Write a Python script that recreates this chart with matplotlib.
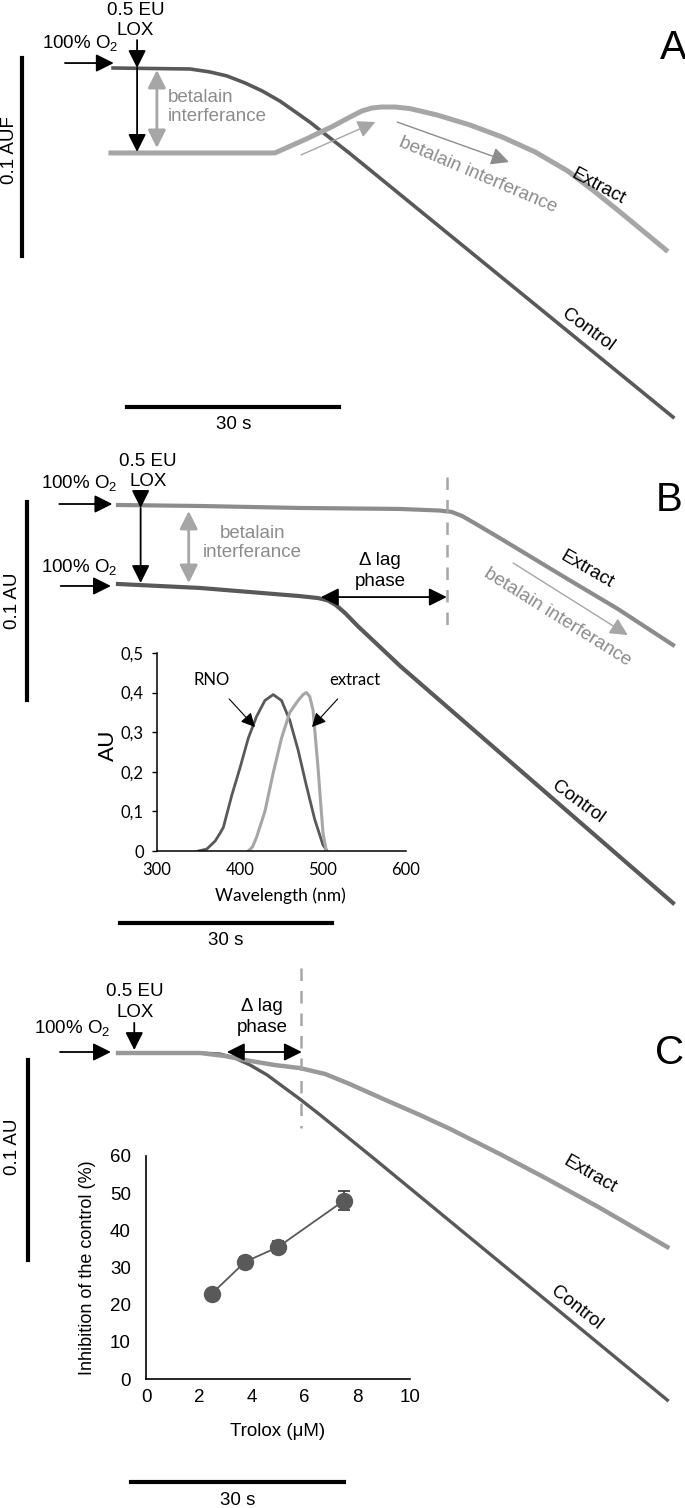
import matplotlib.pyplot as plt
import numpy as np

plt.rcParams['font.family'] = ['Liberation Sans', 'DejaVu Sans']
plt.rcParams['mathtext.fontset'] = 'custom'
plt.rcParams['mathtext.rm'] = 'Liberation Sans'
plt.rcParams['mathtext.default'] = 'regular'

# kinetic traces: time (s) vs. signal change relative to the start level (AU)
# A - fluorescence
a_ctrl_t = [-0.7, 10.2, 13.0, 15.4, 18.0, 20.4, 22.9, 25.3, 27.2, 29.0, 30.8, 32.7, 78.5]
a_ctrl_y = [0, -0.0005, -0.0020, -0.0040, -0.0076, -0.0116, -0.0167, -0.0227, -0.0275,
            -0.0326, -0.0376, -0.0429, -0.1763]
a_ext_t = [-1.0, 22.2, 26.6, 30.3, 32.8, 34.5, 35.9, 37.3, 39.2, 41.3, 45.1, 49.8, 54.3,
           59.0, 63.6, 67.3, 71.0, 77.5]
a_ext_y = [-0.0429, -0.0429, -0.0359, -0.0296, -0.0248, -0.0217, -0.0202, -0.0197, -0.0197,
           -0.0205, -0.0237, -0.0288, -0.0348, -0.0424, -0.0520, -0.0621, -0.0727, -0.0919]

# B - absorbance
b_ctrl_t = [0, 11.6, 25.7, 28.3, 29.7, 30.8, 32.1, 33.9, 39.9, 78.5]
b_ctrl_y = [0, -0.0020, -0.0061, -0.0071, -0.0083, -0.0106, -0.0146, -0.0212, -0.0414, -0.1611]
b_ext_t = [0, 11.6, 25.7, 39.9, 45.5, 47.2, 48.7, 50.5, 54.0, 63.6, 70.7, 78.5]
b_ext_y = [0.0399, 0.0394, 0.0384, 0.0379, 0.0371, 0.0364, 0.0343, 0.0306, 0.0232, 0.0025,
           -0.0126, -0.0308]

# C - absorbance
c_ctrl_t = [0, 11.6, 14.4, 16.5, 18.7, 21.1, 23.6, 25.7, 28.6, 31.4, 36.1, 77.7]
c_ctrl_y = [0, 0, -0.0005, -0.0025, -0.0061, -0.0111, -0.0177, -0.0232, -0.0313, -0.0394,
            -0.0530, -0.1753]
c_ext_t = [0, 11.6, 15.1, 18.7, 22.2, 25.7, 29.3, 32.8, 37.5, 42.7, 47.0, 54.0, 60.7, 68.2, 77.7]
c_ext_y = [0, 0, -0.0015, -0.0040, -0.0061, -0.0076, -0.0106, -0.0157, -0.0232, -0.0313,
           -0.0384, -0.0510, -0.0636, -0.0783, -0.0980]

# inset B: absorption spectra
rno_wl = [350, 360, 370, 376, 380, 390, 400, 410, 420, 430, 440, 450, 460, 470, 480, 490, 500, 505]
rno_au = [0, 0.005, 0.025, 0.045, 0.06, 0.14, 0.21, 0.285, 0.34, 0.38, 0.395, 0.38, 0.33,
          0.255, 0.165, 0.08, 0.015, 0]
ext_wl = [410, 415, 420, 430, 440, 450, 460, 470, 476, 480, 484, 488, 494, 500, 504]
ext_au = [0, 0.01, 0.035, 0.1, 0.197, 0.285, 0.35, 0.38, 0.395, 0.40, 0.39, 0.356, 0.21,
          0.045, 0]

# inset C: Trolox calibration
trolox = [2.5, 3.75, 5.0, 7.5]
inhib = [23, 31.5, 35.5, 48]
inhib_err = [0.8, 1.2, 1.5, 2.5]

DARK = '#595959'
LIGHT = '#a6a6a6'
MID = '#8c8c8c'
FS = 13.5

W, H = 685, 1508
fig = plt.figure(figsize=(W / 100, H / 100), dpi=100)

PX_S = 7.07   # px per second
PX_AU = 1980  # px per AU


def panel(top, bottom, y0):
    ax = fig.add_axes([0, 1 - bottom / H, 1, (bottom - top) / H])
    ax.set_xlim(-118 / PX_S, (W - 118) / PX_S)
    ax.set_ylim((y0 - bottom) / PX_AU, (y0 - top) / PX_AU)
    ax.axis('off')
    return ax


def arrow(ax, start, end, color='k', lw=1.3, style='-|>', hl=0.6, hw=0.3, ms=18):
    ax.annotate('', xy=end, xytext=start,
                arrowprops=dict(arrowstyle=f'{style},head_length={hl},head_width={hw}',
                                color=color, lw=lw, shrinkA=0, shrinkB=0, mutation_scale=ms))


def txt(ax, x, y, s, **kw):
    kw.setdefault('fontsize', FS)
    ax.text(x, y, s, ha=kw.pop('ha', 'center'), va=kw.pop('va', 'center'), **kw)


# ---------------- A
axA = panel(0, 440, 68)
axA.plot(a_ctrl_t, a_ctrl_y, color=DARK, lw=2.6, solid_joinstyle='round')
axA.plot(a_ext_t, a_ext_y, color=LIGHT, lw=3.6, solid_joinstyle='round')
axA.plot([1.3, 31.3], [-0.1712, -0.1712], color='k', lw=3)
txt(axA, 16.3, -0.1803, '30 s')
axA.plot([-13.6, -13.6], [0.005, -0.095], color='k', lw=3)
txt(axA, -15.4, -0.0414, '0.1 AUF', rotation=90)
txt(axA, 2.5, 0.024, '0.5 EU\nLOX', linespacing=1.25)
txt(axA, -5.4, 0.0126, '100% O$_2$')
arrow(axA, (-7.5, 0.0025), (-0.6, 0.0025))
arrow(axA, (2.7, 0.0141), (2.7, 0.0))
arrow(axA, (2.7, 0.0), (2.7, -0.0424))
arrow(axA, (5.5, -0.001), (5.5, -0.0404), color=LIGHT, lw=2, style='<|-|>')
txt(axA, 7.1, -0.0197, 'betalain\ninterferance', color=MID, ha='left')
arrow(axA, (25.9, -0.0439), (36.4, -0.0273), color=LIGHT, lw=1)
arrow(axA, (39.5, -0.0273), (55.3, -0.0475), color=MID, lw=1)
txt(axA, 50.9, -0.054, 'betalain interferance', color=MID, rotation=-23)
txt(axA, 67.9, -0.0601, 'Extract', rotation=-28)
txt(axA, 66.5, -0.1323, 'Control', rotation=-36)
txt(axA, 78.6, 0.0101, 'A', fontsize=29)

# ---------------- B
axB = panel(440, 960, 584)
axB.plot(b_ext_t, b_ext_y, color=MID, lw=3, solid_joinstyle='round')
axB.plot(b_ctrl_t, b_ctrl_y, color=DARK, lw=3, solid_joinstyle='round')
axB.plot([46.5, 46.5], [0.054, -0.0242], color=LIGHT, lw=1.8, ls=(0, (5, 4)))
axB.plot([0.3, 30.3], [-0.1712, -0.1712], color='k', lw=3)
txt(axB, 15.3, -0.180, '30 s')
axB.plot([-12.9, -12.9], [0.0414, -0.0586], color='k', lw=3)
txt(axB, -14.9, -0.0086, '0.1 AU', rotation=90)
txt(axB, 4.2, 0.0568, '0.5 EU\nLOX', linespacing=1.25)
txt(axB, -5.5, 0.0510, '100% O$_2$')
arrow(axB, (-8.3, 0.0404), (-0.8, 0.0404))
arrow(axB, (3.2, 0.046), (3.2, 0.0384))
arrow(axB, (3.2, 0.0384), (3.2, 0.0005))
arrow(axB, (10.0, 0.0369), (10.0, 0.0005), color=LIGHT, lw=2, style='<|-|>')
txt(axB, 19.0, 0.0207, 'betalain\ninterferance', color=MID)
txt(axB, -5.5, 0.0086, '100% O$_2$')
arrow(axB, (-8.1, -0.001), (-1.0, -0.001))
txt(axB, 37.1, 0.0066, 'Δ lag\nphase', linespacing=1.25)
arrow(axB, (28.7, -0.0066), (46.5, -0.0066), style='<|-|>')
txt(axB, 78.0, 0.0424, 'B', fontsize=29)
txt(axB, 66.3, 0.0071, 'Extract', rotation=-30)
arrow(axB, (55.9, 0.0106), (72.1, -0.0258), color=LIGHT, lw=1)
txt(axB, 62.2, -0.0167, 'betalain interferance', color=MID, rotation=-32)
txt(axB, 65.1, -0.1101, 'Control', rotation=-36)

# ---------------- C
axC = panel(960, 1508, 1053)
axC.plot(c_ctrl_t, c_ctrl_y, color=DARK, lw=2.4, solid_joinstyle='round')
axC.plot(c_ext_t, c_ext_y, color='#999999', lw=3.2, solid_joinstyle='round')
axC.plot([25.9, 25.9], [0.0429, -0.0379], color=LIGHT, lw=1.8, ls=(0, (5, 4)))
axC.plot([1.9, 31.9], [-0.2167, -0.2167], color='k', lw=3)
txt(axC, 16.9, -0.2258, '30 s')
axC.plot([-12.7, -12.7], [-0.0035, -0.1045], color='k', lw=3)
txt(axC, -14.9, -0.0475, '0.1 AU', rotation=90)
txt(axC, 2.4, 0.0258, '0.5 EU\nLOX', linespacing=1.25)
txt(axC, -6.5, 0.0126, '100% O$_2$')
arrow(axC, (-8.2, 0.0005), (-1.0, 0.0005))
arrow(axC, (2.3, 0.0152), (2.3, 0.0015))
txt(axC, 20.4, 0.0182, 'Δ lag\nphase', linespacing=1.25)
arrow(axC, (15.4, 0.0005), (26.0, 0.0005), style='<|-|>')
txt(axC, 78.0, 0.0, 'C', fontsize=29)
txt(axC, 66.8, -0.0616, 'Extract', rotation=-30)
txt(axC, 64.9, -0.1288, 'Control', rotation=-38)

# ---------------- inset B: spectra
axS = fig.add_axes([157 / W, 1 - 851 / H, (406 - 157) / W, (851 - 653) / H])
axS.patch.set_alpha(0)
axS.plot(rno_wl, rno_au, color=DARK, lw=2)
axS.plot(ext_wl, ext_au, color=LIGHT, lw=2.2)
axS.set_xlim(300, 600)
axS.set_ylim(0, 0.5)
for s in ['top', 'right']:
    axS.spines[s].set_visible(False)
for s in ['left', 'bottom']:
    axS.spines[s].set_linewidth(1.1)
axS.set_xticks([300, 400, 500, 600])
axS.set_yticks([0, 0.1, 0.2, 0.3, 0.4, 0.5])
axS.set_yticklabels(['0', '0,1', '0,2', '0,3', '0,4', '0,5'], family='Lato')
axS.set_xticklabels(['300', '400', '500', '600'], family='Lato')
axS.tick_params(axis='y', length=3.5, width=1, labelsize=12, pad=6)
axS.tick_params(axis='x', length=0, labelsize=12, pad=8)
axS.set_ylabel('AU', family='Lato', fontsize=16)
axS.yaxis.set_label_coords(-0.157, 0.535)
axS.set_xlabel('Wavelength (nm)', family='Lato', fontsize=12.5)
axS.xaxis.set_label_coords(0.494, -0.185)
for name, tip, pos in [('RNO', (418, 0.313), (366, 0.432)),
                       ('extract', (486.7, 0.313), (538.6, 0.432))]:
    axS.annotate(name, xy=tip, xytext=pos, family='Lato', fontsize=12,
                 ha='center', va='center',
                 arrowprops=dict(arrowstyle='-|>,head_length=0.6,head_width=0.3', color='k',
                                 lw=0.8, shrinkA=8, shrinkB=0, mutation_scale=14))

# ---------------- inset C: Trolox
axT = fig.add_axes([146 / W, 1 - 1379 / H, (410 - 146) / W, (1379 - 1156) / H])
axT.patch.set_alpha(0)
axT.errorbar(trolox, inhib, yerr=inhib_err, fmt='o-', color=DARK, ms=11.5, lw=1.3,
             ecolor='#333333', elinewidth=1.2, capsize=4, capthick=1.2)
axT.set_xlim(0, 10)
axT.set_ylim(0, 60)
for s in ['top', 'right']:
    axT.spines[s].set_visible(False)
for s in ['left', 'bottom']:
    axT.spines[s].set_linewidth(1.2)
axT.set_xticks([0, 2, 4, 6, 8, 10])
axT.set_yticks([0, 10, 20, 30, 40, 50, 60])
axT.tick_params(axis='both', length=0, labelsize=13.5)
axT.tick_params(axis='y', pad=11)
axT.tick_params(axis='x', pad=7)
axT.set_ylabel('Inhibition of the control (%)', fontsize=13)
axT.yaxis.set_label_coords(-0.19, 0.5)
axT.set_xlabel('Trolox (μM)', fontsize=13.5)
axT.xaxis.set_label_coords(0.5, -0.197)

fig.savefig('out.png', dpi=100)
